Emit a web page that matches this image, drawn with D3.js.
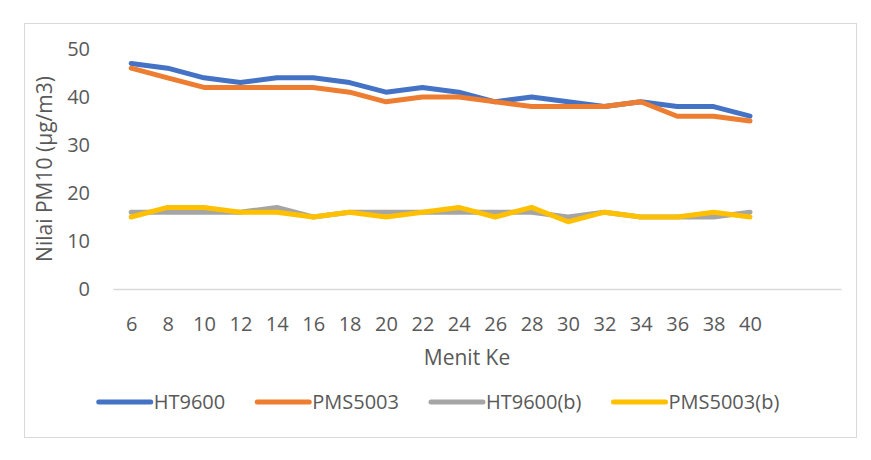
<!DOCTYPE html>
<html>
<head>
<meta charset="utf-8">
<script src="https://cdn.jsdelivr.net/npm/d3@7"></script>
<style>
  body { margin: 0; background: #fff; }
  svg text { font-family: "Open Sans", sans-serif; fill: #595959; }
</style>
</head>
<body>
<div id="chart"></div>
<script>
// menit ke (x categories); the axis keeps two extra empty slots after 40
const menit = [6, 8, 10, 12, 14, 16, 18, 20, 22, 24, 26, 28, 30, 32, 34, 36, 38, 40];
const emptySlots = 2;

const ht9600 = [47, 46, 44, 43, 44, 44, 43, 41, 42, 41, 39, 40, 39, 38, 39, 38, 38, 36];
const pms5003 = [46, 44, 42, 42, 42, 42, 41, 39, 40, 40, 39, 38, 38, 38, 39, 36, 36, 35];
const ht9600b = [16, 16, 16, 16, 17, 15, 16, 16, 16, 16, 16, 16, 15, 16, 15, 15, 15, 16];
const pms5003b = [15, 17, 17, 16, 16, 15, 16, 15, 16, 17, 15, 17, 14, 16, 15, 15, 16, 15];

const seriesNames = ["HT9600", "PMS5003", "HT9600(b)", "PMS5003(b)"];
const seriesValues = [ht9600, pms5003, ht9600b, pms5003b];
const colors = ["#4472C4", "#ED7D31", "#A5A5A5", "#FFC000"];

const yTicks = [0, 10, 20, 30, 40, 50];

const fullWidth = 871, fullHeight = 460;
const plot = { left: 113, right: 841, top: 49, bottom: 289 };

const svg = d3.select("#chart")
  .append("svg")
  .attr("width", fullWidth)
  .attr("height", fullHeight);

// chart border
svg.append("rect")
  .attr("x", 24.5).attr("y", 23.5)
  .attr("width", 832).attr("height", 414)
  .attr("fill", "#fff")
  .attr("stroke", "#D9D9D9");

// scales
const nSlots = menit.length + emptySlots;
const x = d3.scaleLinear()
  .domain([-0.5, nSlots - 0.5])
  .range([plot.left, plot.right]);

const y = d3.scaleLinear()
  .domain([0, 50])
  .range([plot.bottom, plot.top]);

// y axis (labels only)
const yAxis = svg.append("g")
  .attr("transform", `translate(${plot.left},0)`)
  .call(d3.axisLeft(y).tickValues(yTicks).tickSize(0).tickPadding(23));
yAxis.select(".domain").remove();
yAxis.selectAll("text")
  .style("font-size", "20px")
  .attr("fill", "#595959");

// x axis
const xAxis = svg.append("g")
  .attr("transform", `translate(0,${plot.bottom})`)
  .call(d3.axisBottom(x)
    .tickValues(d3.range(menit.length))
    .tickFormat((i) => menit[i])
    .tickSize(0)
    .tickSizeOuter(0)
    .tickPadding(28));
xAxis.select(".domain").attr("stroke", "#D9D9D9").attr("stroke-width", 1.3);
xAxis.selectAll("text")
  .style("font-size", "20px")
  .attr("fill", "#595959");

// axis titles
svg.append("text")
  .attr("x", 467)
  .attr("y", 365)
  .attr("text-anchor", "middle")
  .style("font-size", "21px")
  .text("Menit Ke");

svg.append("text")
  .attr("transform", `translate(52,${(plot.top + plot.bottom) / 2}) rotate(-90)`)
  .attr("text-anchor", "middle")
  .style("font-size", "21px")
  .text("Nilai PM10 (µg/m3)");

// lines
const line = d3.line()
  .x((d, i) => x(i))
  .y((d) => y(d));

svg.append("g")
  .selectAll("path")
  .data(seriesValues)
  .join("path")
  .attr("d", line)
  .attr("fill", "none")
  .attr("stroke", (d, i) => colors[i])
  .attr("stroke-width", 5)
  .attr("stroke-linejoin", "round")
  .attr("stroke-linecap", "round");

// legend
const legend = svg.append("g");
const swatch = 54, gap = 3, spacing = 30;
const items = seriesNames.map((name, i) => {
  const g = legend.append("g");
  g.append("line")
    .attr("x1", 2).attr("x2", swatch)
    .attr("stroke", colors[i])
    .attr("stroke-width", 5)
    .attr("stroke-linecap", "round");
  const t = g.append("text")
    .attr("x", swatch + gap)
    .attr("dy", "0.35em")
    .style("font-size", "20px")
    .text(name);
  return { g, w: swatch + gap + t.node().getComputedTextLength() };
});
const totalW = d3.sum(items, (d) => d.w) + spacing * (items.length - 1);
let cx = 438 - totalW / 2;
items.forEach((d) => {
  d.g.attr("transform", `translate(${cx},402)`);
  cx += d.w + spacing;
});
</script>
</body>
</html>
